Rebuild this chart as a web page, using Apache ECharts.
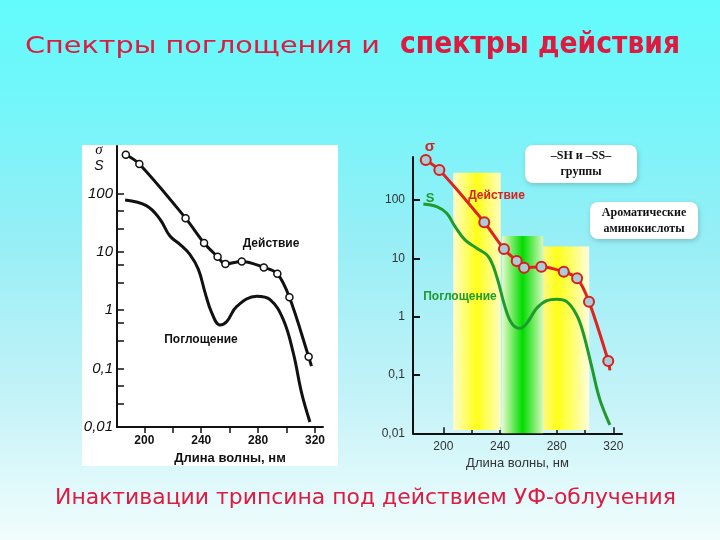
<!DOCTYPE html>
<html>
<head>
<meta charset="utf-8">
<script src="https://cdn.jsdelivr.net/npm/echarts@6/dist/echarts.min.js"></script>
<style>
html,body{margin:0;padding:0;}
#chart{width:720px;height:540px;}
</style>
</head>
<body>
<div id="chart"></div>
<script>
// ---- Data ----
// Left (scanned) panel
const leftActionWave  = [187, 196.5, 229, 242, 251.5, 257, 268.5, 284, 293.5, 302, 315.5, 317.5];
const leftActionValue = [457, 318, 37.6, 14.1, 8.2, 6.2, 6.8, 5.4, 4.2, 1.66, 0.16, 0.11];
const leftAbsWave  = [186.5, 201.7, 211, 218, 225, 232, 238, 242.7, 247.4, 253.2, 258, 265, 279, 288.4, 297.7, 304.7, 310.6, 316.4];
const leftAbsValue = [76.7, 61, 36, 18.6, 13.4, 9.0, 5.0, 2.0, 0.9, 0.56, 0.64, 1.16, 1.73, 1.52, 0.69, 0.186, 0.038, 0.0122];
// Right (coloured) panel
const rightActionWave  = [187.6, 197.2, 228.9, 242.8, 251.8, 257, 269.2, 285, 294.4, 302.8, 316.4, 317.6];
const rightActionValue = [487, 328, 41.6, 14.5, 9.0, 6.9, 7.2, 5.9, 4.56, 1.81, 0.174, 0.12];
const rightAbsWave  = [185.9, 195.3, 202.4, 208.3, 215.3, 223.6, 231.8, 237.7, 243.5, 248.3, 254.1, 258.9, 265.9, 273, 280, 287.1, 294.1, 298.8, 304.7, 310.6, 317.6];
const rightAbsValue = [85.7, 77, 59.4, 35, 20.7, 14.9, 10.7, 4.85, 1.48, 0.77, 0.63, 0.77, 1.39, 1.88, 1.99, 1.81, 1.07, 0.52, 0.139, 0.037, 0.0139];
// Highlight bands in the right panel (nm ranges and heights)
const bandStart  = [207, 241.5, 270.5];
const bandEnd    = [240.5, 270.5, 303];
const bandTop    = [295, 24.2, 15.9];
const bandBottom = [0.0114, 0.01, 0.0114];
// Tick labels
const xTickLabels = [200, 240, 280, 320];
const xTicks = [200, 220, 240, 260, 280, 300, 320];
const yTickLabels = [0.01, 0.1, 1, 10, 100];
const leftYTicks = [0.01, 0.025, 0.05, 0.1, 0.3, 0.6, 1, 3, 6, 10, 25, 50, 100];

// ---- helpers ----
function pairs(xs, ys, lastNoSymbol) {
  return xs.map((x, i) => {
    const item = { value: [x, ys[i]] };
    if (lastNoSymbol && i === xs.length - 1) item.symbol = 'none';
    return item;
  });
}
const mctx = document.createElement('canvas').getContext('2d');
function fit(text, font, target) {
  mctx.font = font;
  return target / mctx.measureText(text).width;
}
const fmt = v => String(+(+v).toPrecision(6)).replace('.', ',');

const RED_T = '#de1a40';
const t1 = 'Спектры поглощения и', f1 = '23px "DejaVu Sans"';
const t2 = 'спектры действия', f2 = 'bold 30px "DejaVu Sans"';
const t3 = 'Инактивации трипсина под действием УФ-облучения', f3 = '22px "DejaVu Sans"';

const bandColors = [
  [[0, '#fffcc8'], [0.5, '#ffff18'], [1, '#fffcc0']],
  [[0, '#e6fac8'], [0.5, '#00dc00'], [1, '#d8f8c0']],
  [[0, '#fff880'], [0.3, '#ffff18'], [0.65, '#ffff70'], [1, '#fffde0']]
];
const bandData = bandStart.map((s, i) => [
  { coord: [s, bandBottom[i]],
    itemStyle: { opacity: 1, color: { type: 'linear', x: 0, y: 0, x2: 1, y2: 0,
      colorStops: bandColors[i].map(c => ({ offset: c[0], color: c[1] })) } } },
  { coord: [bandEnd[i], bandTop[i]] }
]);

const chart = echarts.init(document.getElementById('chart'), null, { renderer: 'canvas' });
const option = {
  animation: false,
  backgroundColor: { type: 'linear', x: 0, y: 0, x2: 0, y2: 1, colorStops: [
    { offset: 0, color: '#62fbfc' }, { offset: 0.2, color: '#74f6fa' },
    { offset: 0.45, color: '#98eef6' }, { offset: 0.75, color: '#c6f3f8' },
    { offset: 1, color: '#f2fdfd' } ] },
  grid: [
    { left: 117, top: 146, width: 206, height: 281 },
    { left: 413, top: 157, width: 209, height: 276.3 }
  ],
  xAxis: [
    { type: 'value', gridIndex: 0, min: 180.8, max: 325.6,
      name: 'Длина волны, нм', nameLocation: 'middle', nameGap: 19,
      nameTextStyle: { color: '#111', fontWeight: 'bold', fontSize: 13, fontFamily: 'Liberation Sans', padding: [0, 0, 0, 20] },
      axisLine: { lineStyle: { color: '#111', width: 2 } },
      axisTick: { inside: false, length: 6, lineStyle: { color: '#111', width: 1.5 }, customValues: xTicks },
      axisLabel: { customValues: xTickLabels, margin: 8, color: '#111', fontWeight: 'bold', fontSize: 12, fontFamily: 'Liberation Sans' },
      splitLine: { show: false } },
    { type: 'value', gridIndex: 1, min: 178.6, max: 326.1,
      name: 'Длина волны, нм', nameLocation: 'middle', nameGap: 21,
      nameTextStyle: { color: '#333', fontSize: 13, fontFamily: 'Liberation Sans' },
      axisLine: { lineStyle: { color: '#111', width: 2 } },
      axisTick: { inside: true, length: 6, lineStyle: { color: '#111', width: 1.5 }, customValues: xTicks },
      axisLabel: { customValues: xTickLabels, margin: 7, color: '#333', fontSize: 12, fontFamily: 'Liberation Sans' },
      splitLine: { show: false } }
  ],
  yAxis: [
    { type: 'log', logBase: 10, gridIndex: 0, min: 0.01, max: 646,
      axisLine: { lineStyle: { color: '#111', width: 2 } },
      axisTick: { inside: true, length: 7, lineStyle: { color: '#111', width: 1.5 }, customValues: leftYTicks },
      axisLabel: { customValues: yTickLabels, formatter: fmt, margin: 4, color: '#111', fontStyle: 'italic', fontSize: 15, fontFamily: 'Liberation Sans' },
      splitLine: { show: false } },
    { type: 'log', logBase: 10, gridIndex: 1, min: 0.01, max: 547,
      axisLine: { lineStyle: { color: '#111', width: 2 } },
      axisTick: { inside: true, length: 7, lineStyle: { color: '#111', width: 2 }, customValues: yTickLabels },
      axisLabel: { customValues: yTickLabels, formatter: fmt, margin: 8, color: '#333', fontSize: 12, fontFamily: 'Liberation Sans' },
      splitLine: { show: false } }
  ],
  series: [
    { name: 'Поглощение (left)', type: 'line', xAxisIndex: 0, yAxisIndex: 0,
      data: pairs(leftAbsWave, leftAbsValue), smooth: 0.4, symbol: 'none',
      lineStyle: { color: '#111', width: 3 } },
    { name: 'Действие (left)', type: 'line', xAxisIndex: 0, yAxisIndex: 0,
      data: pairs(leftActionWave, leftActionValue, true), smooth: 0.35,
      symbol: 'circle', symbolSize: 7,
      lineStyle: { color: '#111', width: 3 },
      itemStyle: { color: '#fff', borderColor: '#111', borderWidth: 1.5 } },
    { name: 'Поглощение', type: 'line', xAxisIndex: 1, yAxisIndex: 1,
      data: pairs(rightAbsWave, rightAbsValue), smooth: 0.4, symbol: 'none',
      lineStyle: { color: '#1f9a2c', width: 3 },
      markArea: { silent: true, data: bandData } },
    { name: 'Действие', type: 'line', xAxisIndex: 1, yAxisIndex: 1,
      data: pairs(rightActionWave, rightActionValue, true), smooth: 0.25,
      symbol: 'circle', symbolSize: 10,
      lineStyle: { color: '#e0231e', width: 3 },
      itemStyle: { color: '#a8cdd8', borderColor: '#d8201c', borderWidth: 2 } }
  ],
  graphic: [
    { type: 'rect', z: -10, shape: { x: 82, y: 145, width: 256, height: 321 }, style: { fill: '#ffffff' } },
    { type: 'text', x: 25, y: 47, scaleX: fit(t1, f1, 355), style: { text: t1, font: f1, fill: RED_T, align: 'left', verticalAlign: 'middle' } },
    { type: 'text', x: 400, y: 45.5, scaleX: fit(t2, f2, 280), style: { text: t2, font: f2, fill: RED_T, align: 'left', verticalAlign: 'middle' } },
    { type: 'text', x: 55, y: 498.5, scaleX: fit(t3, f3, 621), style: { text: t3, font: f3, fill: RED_T, align: 'left', verticalAlign: 'middle' } },
    // left panel labels
    { type: 'text', x: 99, y: 150, style: { text: 'σ', font: 'italic 15px "Liberation Serif"', fill: '#111', align: 'center', verticalAlign: 'middle' } },
    { type: 'text', x: 99, y: 166, style: { text: 'S', font: 'italic 14px "Liberation Sans"', fill: '#111', align: 'center', verticalAlign: 'middle' } },
    { type: 'text', x: 271, y: 244, style: { text: 'Действие', font: 'bold 12px "Liberation Sans"', fill: '#111', align: 'center', verticalAlign: 'middle' } },
    { type: 'text', x: 201, y: 340, style: { text: 'Поглощение', font: 'bold 12px "Liberation Sans"', fill: '#111', align: 'center', verticalAlign: 'middle' } },
    // right panel labels
    { type: 'text', z: 10, x: 430, y: 147, style: { text: 'σ', font: 'bold 15px "Liberation Sans"', fill: '#d8201c', align: 'center', verticalAlign: 'middle' } },
    { type: 'text', z: 10, x: 430, y: 198, style: { text: 'S', font: 'bold 13px "Liberation Sans"', fill: '#1f9a2c', align: 'center', verticalAlign: 'middle' } },
    { type: 'text', z: 10, x: 496.5, y: 196, style: { text: 'Действие', font: 'bold 12px "Liberation Sans"', fill: '#d8201c', align: 'center', verticalAlign: 'middle' } },
    { type: 'text', z: 10, x: 460, y: 297, style: { text: 'Поглощение', font: 'bold 12px "Liberation Sans"', fill: '#1f9a2c', align: 'center', verticalAlign: 'middle' } },
    // annotation boxes
    { type: 'rect', z: 10, shape: { x: 525, y: 145, width: 112, height: 38, r: 8 },
      style: { fill: '#ffffff', shadowBlur: 5, shadowColor: 'rgba(0,0,0,0.18)', shadowOffsetX: 1, shadowOffsetY: 2 } },
    { type: 'text', z: 11, x: 581, y: 164, style: { text: '–SH и –SS–\nгруппы', font: 'bold 12px "Liberation Serif"', lineHeight: 16, fill: '#111', align: 'center', verticalAlign: 'middle' } },
    { type: 'rect', z: 10, shape: { x: 590, y: 202, width: 108, height: 37, r: 8 },
      style: { fill: '#ffffff', shadowBlur: 5, shadowColor: 'rgba(0,0,0,0.18)', shadowOffsetX: 1, shadowOffsetY: 2 } },
    { type: 'text', z: 11, x: 644, y: 220.5, style: { text: 'Ароматические\nаминокислоты', font: 'bold 12px "Liberation Serif"', lineHeight: 16, fill: '#111', align: 'center', verticalAlign: 'middle' } }
  ]
};
chart.setOption(option);
</script>
</body>
</html>
